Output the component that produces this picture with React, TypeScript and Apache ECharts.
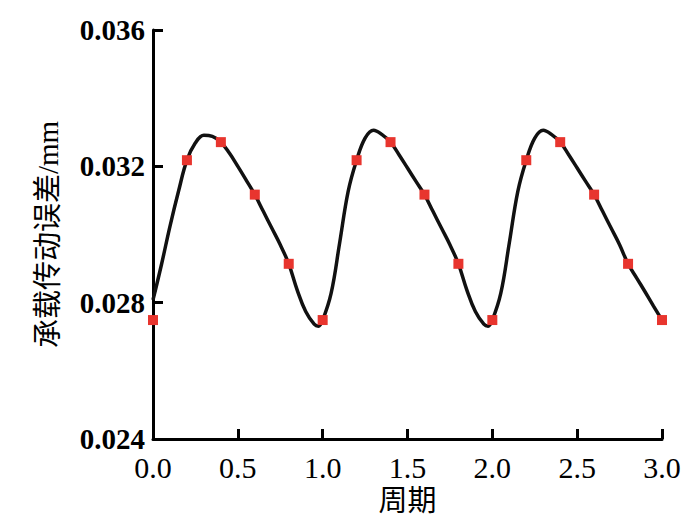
import React, { useEffect, useRef } from "react";
import * as echarts from "echarts";

// Red square markers
const markerX = [0, 0.2, 0.4, 0.6, 0.8, 1.0, 1.2, 1.4, 1.6, 1.8, 2.0, 2.2, 2.4, 2.6, 2.8, 3.0];
const markerY = [
  0.02749, 0.03218, 0.03271, 0.03117, 0.02914,
  0.02749, 0.03218, 0.03271, 0.03117, 0.02914,
  0.02749, 0.03218, 0.03271, 0.03117, 0.02914,
  0.02749,
];

// Black smooth curve
const curveX = [
  0, 0.05, 0.1, 0.15, 0.2, 0.25, 0.3, 0.35, 0.4, 0.45, 0.5, 0.55, 0.6, 0.65, 0.7, 0.75, 0.8, 0.85, 0.9, 0.95, 0.975,
  1.0, 1.05, 1.1, 1.15, 1.2, 1.25, 1.3, 1.35, 1.4, 1.45, 1.5, 1.55, 1.6, 1.65, 1.7, 1.75, 1.8, 1.85, 1.9, 1.95, 1.975,
  2.0, 2.05, 2.1, 2.15, 2.2, 2.25, 2.3, 2.35, 2.4, 2.45, 2.5, 2.55, 2.6, 2.65, 2.7, 2.75, 2.8, 2.85, 2.9, 2.95, 3.0,
];
const curveY = [
  0.02808, 0.02912, 0.03024, 0.03126, 0.03218, 0.03269, 0.03291, 0.03288, 0.03271, 0.03239, 0.032, 0.03159, 0.03117,
  0.03068, 0.03019, 0.0297, 0.02914, 0.02837, 0.02774, 0.02737, 0.02731,
  0.02749, 0.02828, 0.02975, 0.03126, 0.03218, 0.03283, 0.03306, 0.03293, 0.03271, 0.03234, 0.03195, 0.03156, 0.03117,
  0.03068, 0.03019, 0.0297, 0.02914, 0.02837, 0.02774, 0.02737, 0.02731,
  0.02749, 0.02828, 0.02975, 0.03126, 0.03218, 0.03283, 0.03306, 0.03293, 0.03271, 0.03234, 0.03195, 0.03156, 0.03117,
  0.03068, 0.03019, 0.0297, 0.02914, 0.02873, 0.02832, 0.0279, 0.02749,
];

const xName = "周期";
const yName = "承载传动误差/mm";

const FONT = "'Times New Roman', 'Liberation Serif', 'Noto Sans CJK SC', serif";

export default function App() {
  const ref = useRef<HTMLDivElement>(null);
  useEffect(() => {
    if (!ref.current) return;
    const chart = echarts.init(ref.current, undefined, { renderer: "svg" });
    const axisLine = { show: true, lineStyle: { color: "#000", width: 3 } };
    chart.setOption({
      animation: false,
      backgroundColor: "#fff",
      grid: { left: 153, right: 38, top: 30, bottom: 90 },
      xAxis: {
        type: "value",
        min: 0,
        max: 3,
        interval: 0.5,
        name: xName,
        nameLocation: "middle",
        nameGap: 47,
        nameTextStyle: { fontFamily: FONT, fontSize: 29, color: "#000" },
        axisLine,
        axisTick: { show: true, inside: true, length: 10, lineStyle: { color: "#000", width: 3 } },
        splitLine: { show: false },
        axisLabel: {
          fontFamily: FONT,
          fontSize: 30,
          color: "#000",
          margin: 13,
          formatter: (v: number) => v.toFixed(1),
        },
      },
      yAxis: {
        type: "value",
        min: 0.024,
        max: 0.036,
        interval: 0.004,
        name: yName,
        nameLocation: "middle",
        nameGap: 91,
        nameRotate: 90,
        nameTextStyle: { fontFamily: FONT, fontSize: 29, color: "#000" },
        axisLine,
        axisTick: { show: true, inside: true, length: 10, lineStyle: { color: "#000", width: 3 } },
        splitLine: { show: false },
        axisLabel: {
          fontFamily: FONT,
          fontSize: 29,
          fontWeight: "bold",
          color: "#000",
          margin: 8,
          padding: [10, 0, 0, 0],
          formatter: (v: number) => v.toFixed(3),
        },
      },
      series: [
        {
          type: "line",
          data: curveX.map((x, i) => [x, curveY[i]]),
          smooth: 0.4,
          showSymbol: false,
          symbol: "none",
          lineStyle: { color: "#111", width: 3.5 },
          z: 2,
        },
        {
          type: "scatter",
          data: markerX.map((x, i) => [x, markerY[i]]),
          symbol: "rect",
          symbolSize: 10,
          itemStyle: { color: "#e8352e", opacity: 1 },
          z: 3,
        },
      ],
    });
    return () => chart.dispose();
  }, []);
  return (
    <div
      ref={ref}
      style={{ position: "fixed", left: 0, top: 0, width: 700, height: 529, background: "#fff" }}
    />
  );
}
